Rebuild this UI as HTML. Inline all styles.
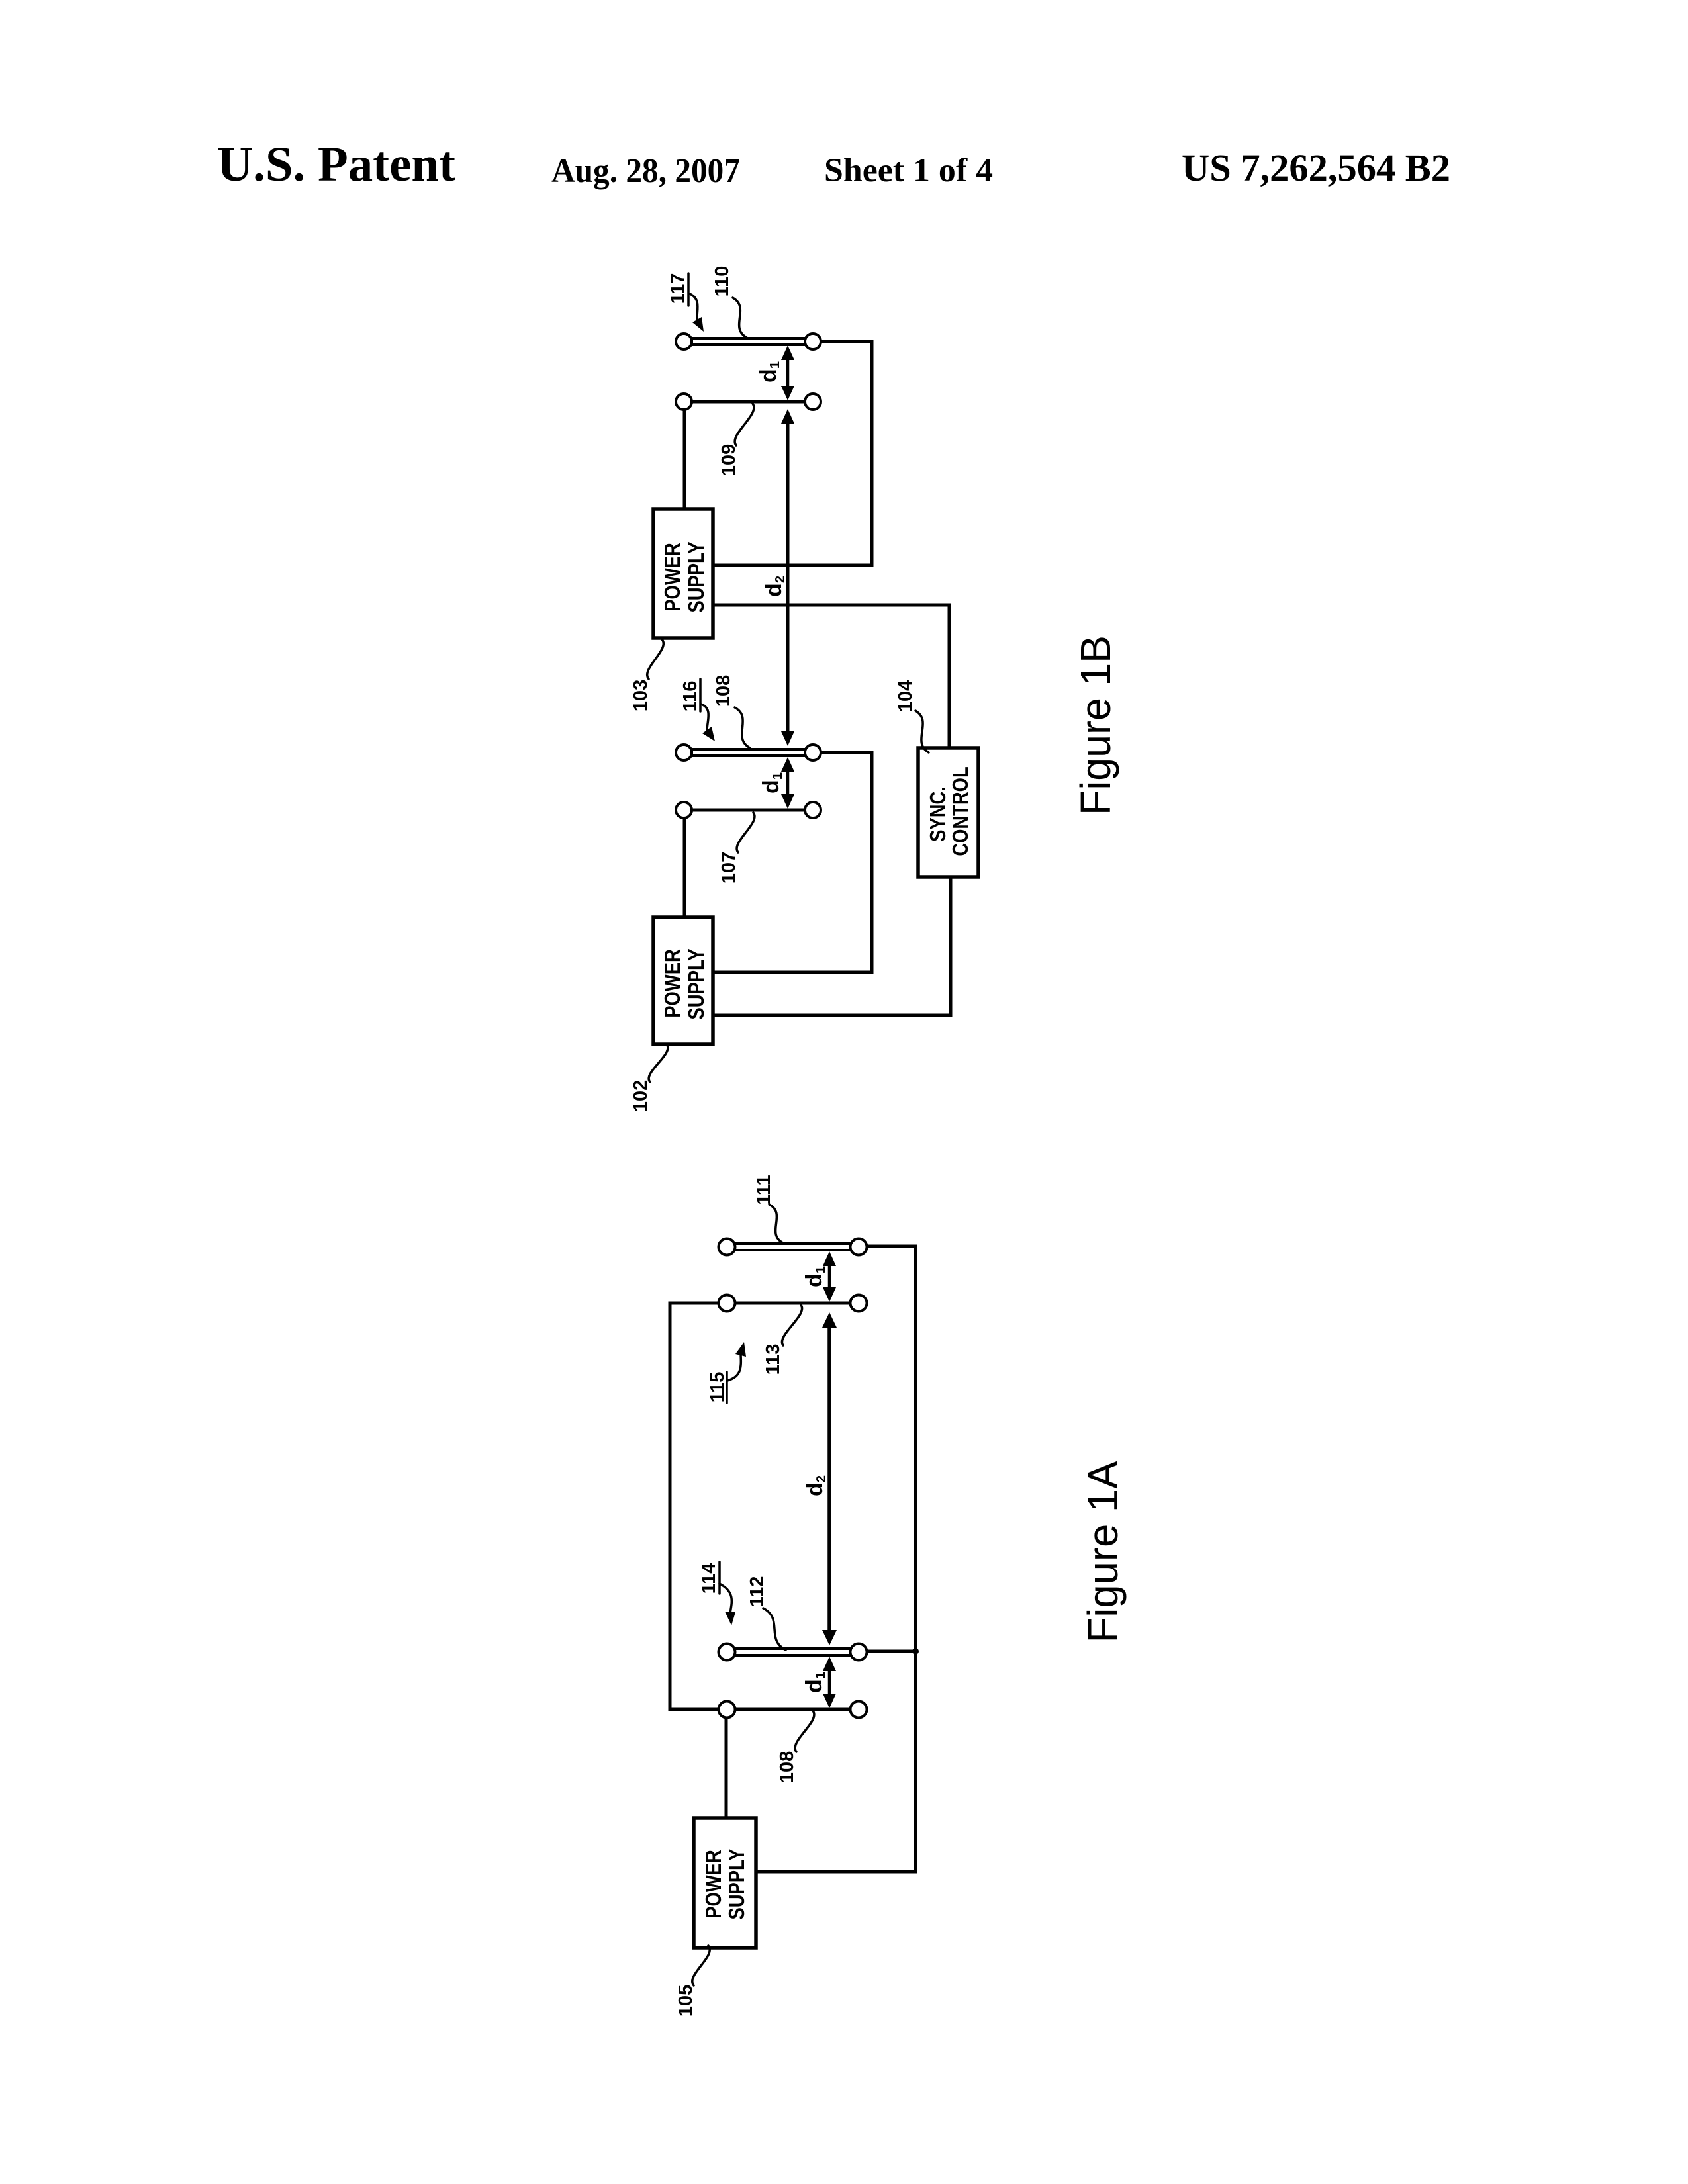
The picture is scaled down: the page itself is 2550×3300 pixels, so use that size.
<!DOCTYPE html>
<html>
<head>
<meta charset="utf-8">
<style>
  html,body{margin:0;padding:0;background:#fff;}
  svg{display:block;}
  .hd{font-family:"Liberation Serif",serif;font-weight:bold;fill:#000;}
  .n{font-family:"Liberation Sans",sans-serif;font-weight:bold;font-size:29px;fill:#000;}
  .ps{font-family:"Liberation Sans",sans-serif;font-weight:bold;font-size:33px;fill:#000;}
  .d{font-family:"Liberation Sans",sans-serif;font-weight:bold;font-size:34px;fill:#000;}
  .fig{font-family:"Liberation Sans",sans-serif;font-size:64px;fill:#000;}
</style>
</head>
<body>
<svg width="2550" height="3300" viewBox="0 0 2550 3300" xmlns="http://www.w3.org/2000/svg">
  <rect x="0" y="0" width="2550" height="3300" fill="#fff"/>

  <!-- Header -->
  <text class="hd" x="328" y="273" font-size="75" textLength="360" lengthAdjust="spacingAndGlyphs">U.S. Patent</text>
  <text class="hd" x="833" y="275" font-size="52" textLength="285" lengthAdjust="spacingAndGlyphs">Aug. 28, 2007</text>
  <text class="hd" x="1245" y="274" font-size="51" textLength="255" lengthAdjust="spacingAndGlyphs">Sheet 1 of 4</text>
  <text class="hd" x="1785" y="273" font-size="58" textLength="406" lengthAdjust="spacingAndGlyphs">US 7,262,564 B2</text>

  <!-- ================= FIGURE 1B ================= -->
  <g fill="none" stroke="#000" stroke-width="5" stroke-linecap="square">
    <polyline points="1240,516 1317,516 1317,854 1077,854"/>
    <line x1="1033" y1="607" x2="1228" y2="607"/>
    <line x1="1034" y1="619" x2="1034" y2="769"/>
    <polyline points="1077,914 1434,914 1434,1130"/>
    <polyline points="1240,1137 1317,1137 1317,1469 1077,1469"/>
    <line x1="1033" y1="1224" x2="1228" y2="1224"/>
    <line x1="1034" y1="1236" x2="1034" y2="1386"/>
    <polyline points="1077,1534 1436,1534 1436,1325"/>
    <!-- d arrows -->
    <line x1="1190" y1="535" x2="1190" y2="592" stroke-width="4.5"/>
    <line x1="1190" y1="630" x2="1190" y2="1114" stroke-width="5"/>
    <line x1="1190" y1="1156" x2="1190" y2="1209" stroke-width="4.5"/>
  </g>
  <g fill="#fff" stroke="#000" stroke-width="5.5">
    <rect x="987" y="769" width="90" height="195"/>
    <rect x="987" y="1386" width="90" height="192"/>
    <rect x="1387" y="1130" width="91" height="195"/>
  </g>
  <g fill="#fff" stroke="#000" stroke-width="4">
    <rect x="1045" y="511" width="171" height="10"/>
    <rect x="1045" y="1132" width="171" height="10"/>
    <circle cx="1033" cy="516" r="12"/>
    <circle cx="1228" cy="516" r="12"/>
    <circle cx="1033" cy="607" r="12"/>
    <circle cx="1228" cy="607" r="12"/>
    <circle cx="1033" cy="1137" r="12"/>
    <circle cx="1228" cy="1137" r="12"/>
    <circle cx="1033" cy="1224" r="12"/>
    <circle cx="1228" cy="1224" r="12"/>
  </g>
  <g fill="#000" stroke="none">
    <!-- d1 upper -->
    <polygon points="1190,522 1180,544 1200,544"/>
    <polygon points="1190,605 1180,583 1200,583"/>
    <!-- d2 -->
    <polygon points="1190,618 1180,640 1200,640"/>
    <polygon points="1190,1127 1180,1105 1200,1105"/>
    <!-- d1 lower -->
    <polygon points="1190,1144 1180,1166 1200,1166"/>
    <polygon points="1190,1222 1180,1200 1200,1200"/>
    <!-- 117 / 116 arrowheads -->
    <polygon points="1063,501 1046,487 1060,479"/>
    <polygon points="1080,1120 1061,1108 1075,1098"/>
  </g>
  <!-- leaders 1B -->
  <g fill="none" stroke="#000" stroke-width="3.5" stroke-linecap="round">
    <path d="M1107,450 C1134,465 1101,495 1128,510"/>
    <path d="M1137,610 C1149,626 1100,657 1112,673"/>
    <path d="M1000,966 C1013,981 967,1011 980,1026"/>
    <path d="M1110,1069 C1138,1084 1105,1115 1133,1130"/>
    <path d="M1383,1074 C1410,1090 1376,1121 1403,1137"/>
    <path d="M1138,1228 C1150,1243 1103,1273 1115,1288"/>
    <path d="M1007,1578 C1019,1592 970,1621 982,1635"/>
    <path d="M1042,444 C1060,452 1052,470 1053,484"/>
    <path d="M1059,1064 C1077,1070 1068,1090 1068,1104"/>
    <line x1="1040" y1="413" x2="1040" y2="462"/>
    <line x1="1058" y1="1026" x2="1058" y2="1075"/>
  </g>
  <!-- labels 1B -->
  <text class="n" transform="translate(1033,436) rotate(-90)" text-anchor="middle">117</text>
  <text class="n" transform="translate(1100,425) rotate(-90)" text-anchor="middle">110</text>
  <text class="n" transform="translate(1110,695) rotate(-90)" text-anchor="middle">109</text>
  <text class="n" transform="translate(977,1051) rotate(-90)" text-anchor="middle">103</text>
  <text class="n" transform="translate(1052,1052) rotate(-90)" text-anchor="middle">116</text>
  <text class="n" transform="translate(1102,1044) rotate(-90)" text-anchor="middle">108</text>
  <text class="n" transform="translate(1377,1052) rotate(-90)" text-anchor="middle">104</text>
  <text class="n" transform="translate(1110,1311) rotate(-90)" text-anchor="middle">107</text>
  <text class="n" transform="translate(977,1656) rotate(-90)" text-anchor="middle">102</text>

  <text class="d" transform="translate(1172,562) rotate(-90)" text-anchor="middle">d<tspan font-size="20" dy="5">1</tspan></text>
  <text class="d" transform="translate(1180,886) rotate(-90)" text-anchor="middle">d<tspan font-size="20" dy="5">2</tspan></text>
  <text class="d" transform="translate(1176,1183) rotate(-90)" text-anchor="middle">d<tspan font-size="20" dy="5">1</tspan></text>

  <text class="ps" transform="translate(1027,872) rotate(-90) scale(0.83,1)" text-anchor="middle">POWER</text>
  <text class="ps" transform="translate(1063,872) rotate(-90) scale(0.83,1)" text-anchor="middle">SUPPLY</text>
  <text class="ps" transform="translate(1027,1486) rotate(-90) scale(0.83,1)" text-anchor="middle">POWER</text>
  <text class="ps" transform="translate(1063,1487) rotate(-90) scale(0.83,1)" text-anchor="middle">SUPPLY</text>
  <text class="ps" transform="translate(1428,1230) rotate(-90) scale(0.83,1)" text-anchor="middle">SYNC.</text>
  <text class="ps" transform="translate(1462,1226) rotate(-90) scale(0.83,1)" text-anchor="middle">CONTROL</text>

  <text class="fig" transform="translate(1677,1096) rotate(-90)" text-anchor="middle" textLength="272" lengthAdjust="spacingAndGlyphs">Figure 1B</text>

  <!-- ================= FIGURE 1A ================= -->
  <g fill="none" stroke="#000" stroke-width="5" stroke-linecap="square">
    <polyline points="1309,1883 1383,1883 1383,2828 1142,2828"/>
    <polyline points="1297,1969 1012,1969 1012,2583 1297,2583"/>
    <line x1="1097" y1="2595" x2="1097" y2="2747"/>
    <line x1="1309" y1="2495" x2="1383" y2="2495"/>
    <line x1="1253" y1="1903" x2="1253" y2="1954" stroke-width="4.5"/>
    <line x1="1253" y1="1996" x2="1253" y2="2473" stroke-width="5.5"/>
    <line x1="1253" y1="2515" x2="1253" y2="2568" stroke-width="4.5"/>
  </g>
  <circle cx="1383" cy="2495" r="5" fill="#000"/>
  <rect x="1048" y="2747" width="94" height="196" fill="#fff" stroke="#000" stroke-width="5.5"/>
  <g fill="#fff" stroke="#000" stroke-width="4">
    <rect x="1110" y="1879" width="175" height="10"/>
    <rect x="1110" y="2491" width="175" height="10"/>
    <circle cx="1098" cy="1884" r="12.5"/>
    <circle cx="1297" cy="1884" r="12.5"/>
    <circle cx="1098" cy="1969" r="12.5"/>
    <circle cx="1297" cy="1969" r="12.5"/>
    <circle cx="1098" cy="2496" r="12.5"/>
    <circle cx="1297" cy="2496" r="12.5"/>
    <circle cx="1098" cy="2583" r="12.5"/>
    <circle cx="1297" cy="2583" r="12.5"/>
  </g>
  <g fill="#000" stroke="none">
    <polygon points="1253,1891 1243,1913 1263,1913"/>
    <polygon points="1253,1967 1243,1945 1263,1945"/>
    <polygon points="1253,1983 1242,2006 1264,2006"/>
    <polygon points="1253,2486 1242,2463 1264,2463"/>
    <polygon points="1253,2503 1243,2525 1263,2525"/>
    <polygon points="1253,2581 1243,2559 1263,2559"/>
    <!-- 115 / 114 arrowheads -->
    <polygon points="1124,2028 1111,2046 1127,2050"/>
    <polygon points="1105,2456 1095,2435 1111,2436"/>
  </g>
  <g fill="none" stroke="#000" stroke-width="3.5" stroke-linecap="round">
    <path d="M1162,1820 C1189,1834 1156,1864 1183,1878"/>
    <path d="M1210,1972 C1221,1987 1172,2018 1183,2033"/>
    <path d="M1099,2086 C1120,2080 1120,2066 1119,2047"/>
    <path d="M1087,2393 C1110,2405 1106,2420 1103,2437"/>
    <path d="M1153,2430 C1184,2446 1156,2477 1187,2493"/>
    <path d="M1228,2585 C1240,2601 1191,2631 1203,2647"/>
    <path d="M1070,2940 C1083,2955 1035,2985 1048,3000"/>
    <line x1="1098" y1="2073" x2="1098" y2="2120"/>
    <line x1="1087" y1="2360" x2="1087" y2="2408"/>
  </g>
  <text class="n" transform="translate(1163,1798) rotate(-90)" text-anchor="middle">111</text>
  <text class="n" transform="translate(1177,2054) rotate(-90)" text-anchor="middle">113</text>
  <text class="n" transform="translate(1093,2096) rotate(-90)" text-anchor="middle">115</text>
  <text class="n" transform="translate(1080,2385) rotate(-90)" text-anchor="middle">114</text>
  <text class="n" transform="translate(1153,2405) rotate(-90)" text-anchor="middle">112</text>
  <text class="n" transform="translate(1198,2670) rotate(-90)" text-anchor="middle">108</text>
  <text class="n" transform="translate(1045,3023) rotate(-90)" text-anchor="middle">105</text>

  <text class="d" transform="translate(1241,1929) rotate(-90)" text-anchor="middle">d<tspan font-size="20" dy="5">1</tspan></text>
  <text class="d" transform="translate(1242,2245) rotate(-90)" text-anchor="middle">d<tspan font-size="20" dy="5">2</tspan></text>
  <text class="d" transform="translate(1241,2542) rotate(-90)" text-anchor="middle">d<tspan font-size="20" dy="5">1</tspan></text>

  <text class="ps" transform="translate(1089,2847) rotate(-90) scale(0.83,1)" text-anchor="middle">POWER</text>
  <text class="ps" transform="translate(1124,2847) rotate(-90) scale(0.83,1)" text-anchor="middle">SUPPLY</text>

  <text class="fig" transform="translate(1688,2345) rotate(-90)" text-anchor="middle" textLength="275" lengthAdjust="spacingAndGlyphs">Figure 1A</text>
</svg>
</body>
</html>
